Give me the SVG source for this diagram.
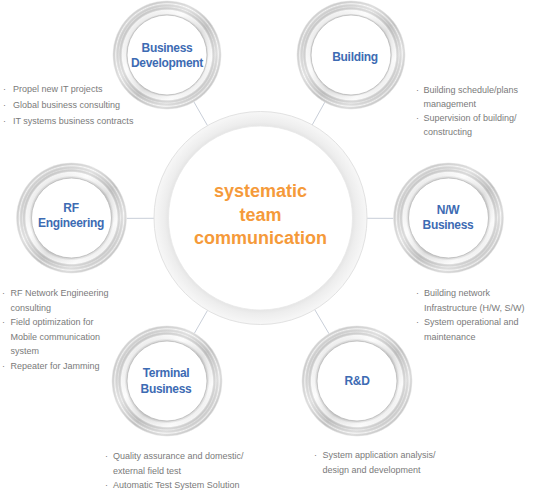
<svg xmlns="http://www.w3.org/2000/svg" width="533" height="492" viewBox="0 0 533 492">
<defs>
<style>
.lbl{font-family:"Liberation Sans",Arial,sans-serif;font-weight:bold;font-size:12px;fill:#3d6bb3;text-anchor:middle;letter-spacing:-0.3px}
.ctr{font-family:"Liberation Sans",Arial,sans-serif;font-weight:bold;font-size:18px;fill:#f59a3a;text-anchor:middle}
.b{font-family:"Liberation Sans",Arial,sans-serif;font-size:9px;fill:#7a7a7a}
.con{stroke:#c8ced8;stroke-width:1;fill:none}
.ring{fill:url(#metal);stroke:#ebebeb;stroke-width:0.8}
.groove{fill:url(#grooves)}
.inner{fill:#ffffff;stroke:#b3b3b3;stroke-width:0.7}
</style>
<linearGradient id="metal" x1="0" y1="0" x2="1" y2="1">
<stop offset="0" stop-color="#ffffff"/>
<stop offset="0.2" stop-color="#e4e4e4"/>
<stop offset="0.38" stop-color="#fbfbfb"/>
<stop offset="0.55" stop-color="#d4d4d4"/>
<stop offset="0.72" stop-color="#f8f8f8"/>
<stop offset="0.88" stop-color="#d9d9d9"/>
<stop offset="1" stop-color="#f2f2f2"/>
</linearGradient>
<radialGradient id="grooves" cx="0.5" cy="0.5" r="0.5">
<stop offset="0.72" stop-color="#000" stop-opacity="0.12"/>
<stop offset="0.77" stop-color="#fff" stop-opacity="0.2"/>
<stop offset="0.83" stop-color="#fff" stop-opacity="0.5"/>
<stop offset="0.89" stop-color="#000" stop-opacity="0.04"/>
<stop offset="0.95" stop-color="#fff" stop-opacity="0.4"/>
<stop offset="1" stop-color="#000" stop-opacity="0.05"/>
</radialGradient>
<radialGradient id="bigring" cx="0.5" cy="0.5" r="0.5">
<stop offset="0.84" stop-color="#e0e0e0"/>
<stop offset="0.9" stop-color="#ededed"/>
<stop offset="1" stop-color="#f7f7f7"/>
</radialGradient>
</defs>
<rect width="533" height="492" fill="#ffffff"/>

<g id="connectors">
<line class="con" x1="260.5" y1="218" x2="167" y2="55"/>
<line class="con" x1="260.5" y1="218" x2="351" y2="55"/>
<line class="con" x1="260.5" y1="218" x2="71.5" y2="218.5"/>
<line class="con" x1="260.5" y1="218" x2="448.5" y2="218.5"/>
<line class="con" x1="260.5" y1="218" x2="167" y2="381"/>
<line class="con" x1="260.5" y1="218" x2="357" y2="381"/>
</g>

<g id="center">
<circle cx="260.5" cy="218" r="106.5" fill="url(#bigring)" stroke="#e2e2e2" stroke-width="1"/>
<circle cx="260.5" cy="218" r="92" fill="#ffffff" stroke="#e8e8e8" stroke-width="0.8"/>
<text class="ctr" x="260.5" y="197">systematic</text>
<text class="ctr" x="260.5" y="221">team</text>
<text class="ctr" x="260.5" y="244">communication</text>
</g>

<g id="business-development">
<circle class="ring" cx="167" cy="55" r="54"/>
<circle class="groove" cx="167" cy="55" r="54"/>
<circle class="inner" cx="167" cy="55" r="40"/>
<text class="lbl" x="167" y="52">Business</text>
<text class="lbl" x="167" y="67">Development</text>
</g>

<g id="building">
<circle class="ring" cx="351" cy="55" r="54"/>
<circle class="groove" cx="351" cy="55" r="54"/>
<circle class="inner" cx="351" cy="55" r="40"/>
<text class="lbl" x="355" y="61">Building</text>
</g>

<g id="rf-engineering">
<circle class="ring" cx="71.5" cy="218" r="55"/>
<circle class="groove" cx="71.5" cy="218" r="55"/>
<circle class="inner" cx="71.5" cy="218" r="40"/>
<text class="lbl" x="71" y="212">RF</text>
<text class="lbl" x="71" y="227">Engineering</text>
</g>

<g id="nw-business">
<circle class="ring" cx="448.5" cy="218" r="55"/>
<circle class="groove" cx="448.5" cy="218" r="55"/>
<circle class="inner" cx="448.5" cy="218" r="40"/>
<text class="lbl" x="448" y="214">N/W</text>
<text class="lbl" x="448" y="229">Business</text>
</g>

<g id="terminal-business">
<circle class="ring" cx="167" cy="381" r="55"/>
<circle class="groove" cx="167" cy="381" r="55"/>
<circle class="inner" cx="167" cy="381" r="40"/>
<text class="lbl" x="166" y="377">Terminal</text>
<text class="lbl" x="166" y="393">Business</text>
</g>

<g id="rnd">
<circle class="ring" cx="357" cy="381" r="55"/>
<circle class="groove" cx="357" cy="381" r="55"/>
<circle class="inner" cx="357" cy="381" r="40"/>
<text class="lbl" x="357" y="385">R&amp;D</text>
</g>

<g id="notes">
<text class="b" x="3" y="92">·</text><text class="b" x="13" y="92">Propel new IT projects</text>
<text class="b" x="3" y="108">·</text><text class="b" x="13" y="108">Global business consulting</text>
<text class="b" x="3" y="124">·</text><text class="b" x="13" y="124">IT systems business contracts</text>

<text class="b" x="416" y="93">·</text><text class="b" x="423.5" y="93">Building schedule/plans</text>
<text class="b" x="423.5" y="107">management</text>
<text class="b" x="416" y="121">·</text><text class="b" x="423.5" y="121">Supervision of building/</text>
<text class="b" x="423.5" y="135">constructing</text>

<text class="b" x="2" y="296">·</text><text class="b" x="10.5" y="296">RF Network Engineering</text>
<text class="b" x="10.5" y="310.5">consulting</text>
<text class="b" x="2" y="325">·</text><text class="b" x="10.5" y="325">Field optimization for</text>
<text class="b" x="10.5" y="339.5">Mobile communication</text>
<text class="b" x="10.5" y="354">system</text>
<text class="b" x="2" y="369">·</text><text class="b" x="10.5" y="369">Repeater for Jamming</text>

<text class="b" x="416" y="296">·</text><text class="b" x="424" y="296">Building network</text>
<text class="b" x="424" y="310.5">Infrastructure (H/W, S/W)</text>
<text class="b" x="416" y="325">·</text><text class="b" x="424" y="325">System operational and</text>
<text class="b" x="424" y="339.5">maintenance</text>

<text class="b" x="105" y="459">·</text><text class="b" x="113" y="459">Quality assurance and domestic/</text>
<text class="b" x="113" y="473.5">external field test</text>
<text class="b" x="105" y="488">·</text><text class="b" x="113" y="488">Automatic Test System Solution</text>

<text class="b" x="314" y="458">·</text><text class="b" x="322.5" y="458">System application analysis/</text>
<text class="b" x="322.5" y="472.5">design and development</text>
</g>
</svg>
